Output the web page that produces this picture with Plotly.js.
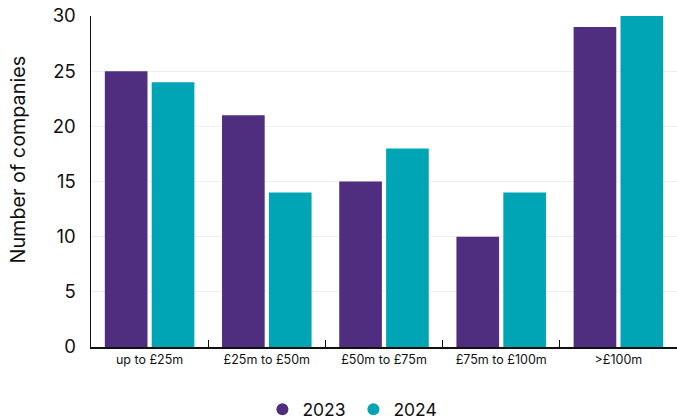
<!DOCTYPE html>
<html>
<head>
<meta charset="utf-8">
<script src="https://cdn.plot.ly/plotly-3.0.1.min.js"></script>
<style>
  html, body { margin: 0; padding: 0; background: #fff; }
  #chart { width: 677px; height: 419px; }
</style>
</head>
<body>
<div id="chart"></div>
<script>
// Companies by size band, 2023 vs 2024
const bands = ["up to £25m", "£25m to £50m", "£50m to £75m", "£75m to £100m", ">£100m"];
const companies2023 = [25, 21, 15, 10, 29];
const companies2024 = [24, 14, 18, 14, 30];
const yTicks = [0, 5, 10, 15, 20, 25, 30];

const purple = "#4f2d7f";
const teal = "#00a5b5";
const fontFamily = "Inter, 'Noto Sans', sans-serif";

const traces = [
  { type: "bar", name: "2023", x: bands, y: companies2023, marker: { color: purple }, showlegend: false, hoverinfo: "x+y" },
  { type: "bar", name: "2024", x: bands, y: companies2024, marker: { color: teal }, showlegend: false, hoverinfo: "x+y" },
  // round legend keys
  { type: "scatter", mode: "markers", name: "2023", x: [null], y: [null], marker: { color: purple, size: 12, symbol: "circle" } },
  { type: "scatter", mode: "markers", name: "2024", x: [null], y: [null], marker: { color: teal, size: 12, symbol: "circle" } }
];

const layout = {
  width: 677,
  height: 419,
  margin: { l: 91, r: 0, t: 16, b: 72 },
  paper_bgcolor: "#fff",
  plot_bgcolor: "#fff",
  font: { family: fontFamily, color: "#111" },
  barmode: "group",
  bargap: 0.2,
  bargroupgap: 0.09,
  xaxis: {
    type: "category",
    showline: true,
    linecolor: "#111",
    linewidth: 1.5,
    ticks: "inside",
    tickson: "boundaries",
    ticklen: 7,
    tickcolor: "#111",
    tickfont: { size: 12.5, family: fontFamily, color: "#111" },
    showgrid: false,
    fixedrange: true
  },
  yaxis: {
    range: [0, 30],
    tickvals: yTicks,
    showline: true,
    linecolor: "#111",
    linewidth: 1.5,
    ticks: "",
    showgrid: true,
    gridcolor: "#efefef",
    zeroline: false,
    tickfont: { size: 18.5, family: fontFamily, color: "#111" },
    ticklabelstandoff: 10,
    fixedrange: true
  },
  // y-axis title, set a little above the plot's middle
  annotations: [{
    text: "Number of companies",
    textangle: -90,
    xref: "paper", yref: "paper",
    x: -0.1254, y: 0.565,
    xanchor: "center", yanchor: "middle",
    showarrow: false,
    font: { size: 19.8, family: fontFamily, color: "#111" }
  }],
  showlegend: true,
  legend: {
    orientation: "h",
    xref: "container",
    yref: "container",
    x: 0.522,
    xanchor: "center",
    y: 0.023,
    yanchor: "middle",
    font: { size: 17.5, family: fontFamily, color: "#111" },
    entrywidth: 46,
    traceorder: "normal"
  }
};

Plotly.newPlot("chart", traces, layout, { displayModeBar: false, staticPlot: true });
</script>
</body>
</html>
